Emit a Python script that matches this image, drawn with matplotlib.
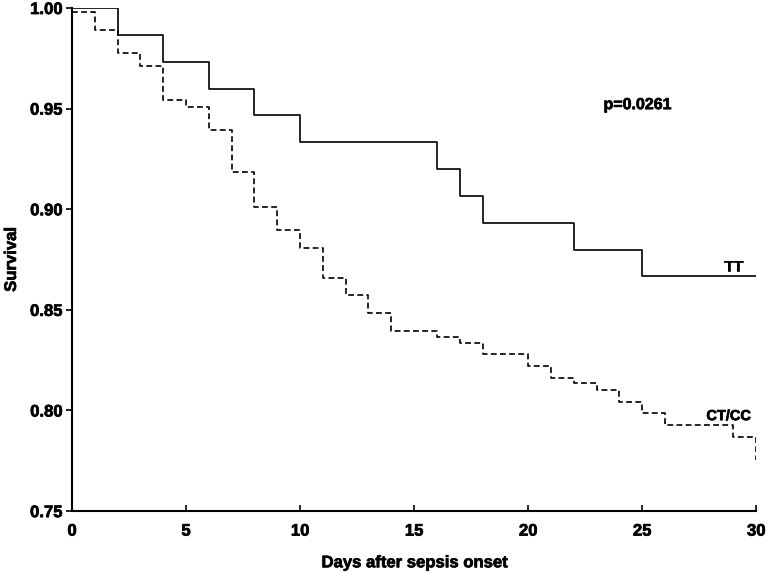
import matplotlib.pyplot as plt
import matplotlib.patheffects as pe

plt.rcParams['font.family'] = ['Liberation Sans', 'DejaVu Sans']
plt.rcParams['font.weight'] = 'bold'

# Kaplan-Meier step values (day where the step starts, survival after it)
tt_days = [0, 2, 4, 6, 8, 10, 16, 17, 18, 22, 25, 30]
tt_surv = [1.0, 0.9867, 0.9733, 0.96, 0.9467, 0.9333, 0.92, 0.9067, 0.8933, 0.88, 0.8667, 0.8667]

ctcc_days = [0, 1, 2, 3, 4, 5, 6, 7, 8, 9, 10, 11, 12, 13, 14, 16, 17, 18,
             20, 21, 22, 23, 24, 25, 26, 29, 30]
ctcc_surv = [0.9979, 0.989, 0.9775, 0.9713, 0.9543, 0.9509, 0.9394, 0.9186, 0.901,
             0.8897, 0.8806, 0.8660, 0.8572, 0.8486, 0.8396, 0.8366, 0.8337, 0.8279,
             0.8222, 0.8163, 0.8135, 0.8101, 0.8043, 0.7986, 0.7926, 0.7866, 0.7753]

x_ticks = [0, 5, 10, 15, 20, 25, 30]
y_ticks = [0.75, 0.80, 0.85, 0.90, 0.95, 1.00]

# slightly heavier text, like the original
heavy = [pe.withStroke(linewidth=0.5, foreground='black')]

fig = plt.figure(figsize=(7.67, 5.73), dpi=100)
ax = fig.add_axes([0.0939, 0.108, 0.892, 0.878])

ax.step(tt_days, tt_surv, where='post', color='black', linewidth=1.2)
ax.step(ctcc_days, ctcc_surv, where='post', color='black', linewidth=1.2,
        linestyle=(0, (3.5, 2)))

ax.set_xlim(0, 30)
ax.set_ylim(0.75, 1.0)
ax.set_xticks(x_ticks)
ax.set_yticks(y_ticks)
ax.set_yticklabels([f"{v:.2f}" for v in y_ticks])

for side in ['top', 'right']:
    ax.spines[side].set_visible(False)
for side in ['left', 'bottom']:
    ax.spines[side].set_linewidth(1.5)

ax.tick_params(axis='x', direction='in', length=4, width=1.2, labelsize=12, pad=9)
ax.tick_params(axis='y', direction='out', length=4, width=1.2, labelsize=12, pad=3)
for lab in ax.get_xticklabels() + ax.get_yticklabels():
    lab.set_fontweight('bold')
    lab.set_path_effects(heavy)

ax.set_xlabel('Days after sepsis onset', fontsize=12, fontweight='bold', labelpad=12,
              path_effects=heavy)
ax.set_ylabel('Survival', fontsize=12, fontweight='bold', labelpad=8,
              path_effects=heavy)

ax.text(24.8, 0.952, 'p=0.0261', fontsize=11.5, fontweight='bold',
        ha='center', va='center', path_effects=heavy)
ax.text(29.0, 0.8713, 'TT', fontsize=11, fontweight='bold',
        ha='center', va='center', path_effects=heavy)
ax.text(28.8, 0.7972, 'CT/CC', fontsize=10.5, fontweight='bold',
        ha='center', va='center', path_effects=heavy)

fig.savefig('out.png', dpi=100)
